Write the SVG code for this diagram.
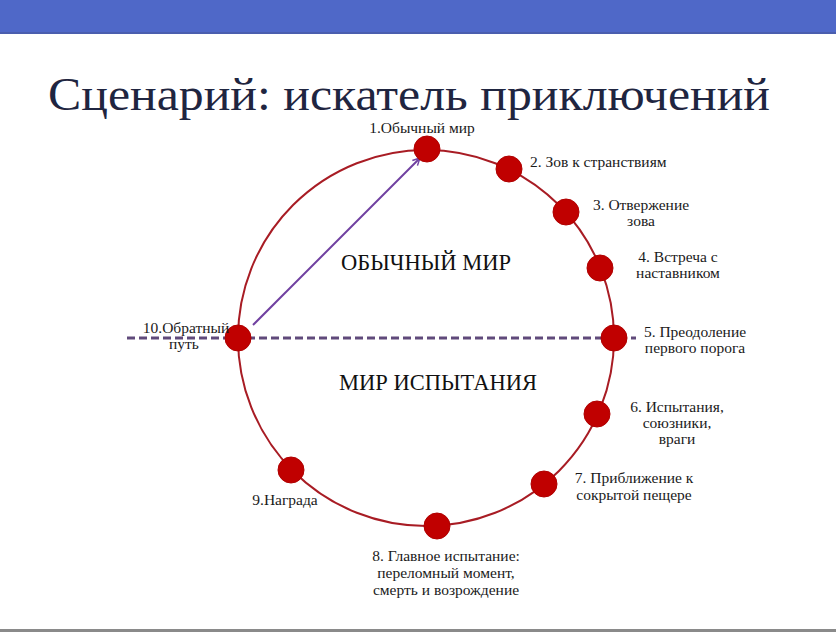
<svg xmlns="http://www.w3.org/2000/svg" width="836" height="632" viewBox="0 0 836 632">
<defs>
<style>
.lbl{font-family:"Liberation Serif","DejaVu Serif",serif;font-size:15.5px;fill:#1a1a1a;text-anchor:middle}
.big{font-family:"Liberation Serif","DejaVu Serif",serif;font-size:22.5px;fill:#111;text-anchor:middle}
.dot{fill:#C00000;stroke:#B00000;stroke-width:1}
</style>
<marker id="ah" viewBox="0 0 10 10" refX="9" refY="5" markerWidth="9" markerHeight="9" orient="auto" markerUnits="userSpaceOnUse">
<path d="M1,1 L9,5 L1,9" fill="none" stroke="#7040A0" stroke-width="1.6"/>
</marker>
</defs>
<rect width="836" height="632" fill="#fff"/>
<rect x="0" y="0" width="836" height="33" fill="#4F68C8"/>
<rect x="0" y="32" width="836" height="2" fill="#4A5EAE"/>
<rect x="0" y="629" width="836" height="3" fill="#8a8a8a"/>
<text x="48" y="110" font-family="Liberation Serif, DejaVu Serif, serif" font-size="46" fill="#1F2540" textLength="722" lengthAdjust="spacingAndGlyphs">Сценарий: искатель приключений</text>
<g id="connectors">
<circle cx="426" cy="338" r="188" fill="none" stroke="#A81C24" stroke-width="2"/>
<line x1="127" y1="338" x2="636" y2="338" stroke="#604A7B" stroke-width="3" stroke-dasharray="8,4"/>
<line x1="253" y1="325" x2="420" y2="158" stroke="#7040A0" stroke-width="2" marker-end="url(#ah)"/>
</g>
<text class="big" x="426" y="270">ОБЫЧНЫЙ МИР</text>
<text class="big" x="438" y="390">МИР ИСПЫТАНИЯ</text>
<g id="n1"><circle class="dot" cx="427" cy="149" r="13"/><text class="lbl" x="422" y="133">1.Обычный мир</text></g>
<g id="n2"><circle class="dot" cx="509" cy="169" r="13"/><text class="lbl" x="530" y="167" style="text-anchor:start">2. Зов к странствиям</text></g>
<g id="n3"><circle class="dot" cx="566" cy="212" r="13"/><text class="lbl" x="641" y="210">3. Отвержение</text><text class="lbl" x="641" y="226">зова</text></g>
<g id="n4"><circle class="dot" cx="600" cy="268" r="13"/><text class="lbl" x="678" y="262">4. Встреча с</text><text class="lbl" x="678" y="278">наставником</text></g>
<g id="n5"><circle class="dot" cx="614" cy="338" r="13"/><text class="lbl" x="695" y="337">5. Преодоление</text><text class="lbl" x="695" y="353">первого порога</text></g>
<g id="n6"><circle class="dot" cx="597" cy="414" r="13"/><text class="lbl" x="677" y="412">6. Испытания,</text><text class="lbl" x="677" y="428">союзники,</text><text class="lbl" x="677" y="444">враги</text></g>
<g id="n7"><circle class="dot" cx="544" cy="484" r="13"/><text class="lbl" x="634" y="483">7. Приближение к</text><text class="lbl" x="634" y="500">сокрытой пещере</text></g>
<g id="n8"><circle class="dot" cx="437" cy="526" r="13"/><text class="lbl" x="446" y="561">8. Главное испытание:</text><text class="lbl" x="446" y="578">переломный момент,</text><text class="lbl" x="446" y="595">смерть и возрождение</text></g>
<g id="n9"><circle class="dot" cx="291" cy="470" r="13"/><text class="lbl" x="285" y="505">9.Награда</text></g>
<g id="n10"><circle class="dot" cx="238" cy="338" r="13"/><text class="lbl" x="186" y="333">10.Обратный</text><text class="lbl" x="184" y="349">путь</text></g>
</svg>
